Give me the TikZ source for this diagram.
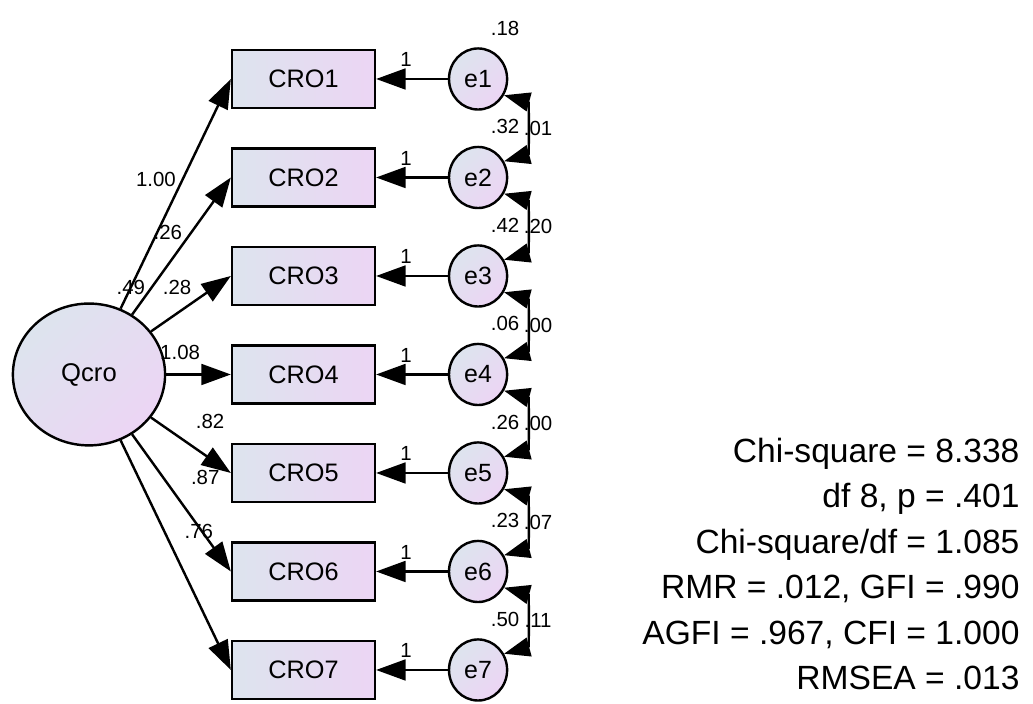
\documentclass[tikz,border=0pt]{standalone}
\usepackage{fontspec}
\setmainfont{Liberation Sans}
\usetikzlibrary{shapes.geometric,arrows.meta}
\definecolor{shadeL}{RGB}{221,228,238}
\definecolor{shadeR}{RGB}{236,213,244}
\tikzset{
    obs/.style={draw,line width=1.4pt,minimum width=2.9cm,minimum height=1.18cm,left color=shadeL,right color=shadeR,font=\fontsize{14.6}{16}\selectfont},
    err/.style={draw,ellipse,line width=1.4pt,minimum width=1.18cm,minimum height=1.24cm,inner sep=0pt,left color=shadeL,right color=shadeR,shading angle=45,font=\fontsize{14.4}{16}\selectfont},
    reg/.style={line width=1.4pt,-{Triangle[length=17pt,width=12pt]}},
    cov/.style={line width=1.4pt,{Triangle[length=15pt,width=11pt]}-{Triangle[length=15pt,width=11pt]}},
    lab/.style={inner sep=0pt,font=\fontsize{11.8}{13}\selectfont}
}
\begin{document}
\begin{tikzpicture}
    \useasboundingbox(-1.807,-6.690)rectangle(19.168,7.604);
    \node[draw,ellipse,line width=1.4pt,minimum width=3.09cm,minimum height=2.88cm,left color=shadeL,right color=shadeR,shading angle=45,font=\fontsize{14.8}{16}\selectfont](Qcro)at(0,0){Qcro};
    \node[lab]at(0.85,1.76){.49};

    % indicators and their errors
    \foreach \i/\y/\v in {1/6/.18,2/4/.32,3/2/.42,4/0/.06,5/-2/.26,6/-4/.23,7/-6/.50}{
        \node[obs](cro\i)at(4.355,\y){CRO\i};
        \node[err](e\i)at(7.9,\y){e\i};
        \draw[reg](e\i)--(cro\i.east);
        \draw[reg](Qcro)--(cro\i.west);
        \node[lab]at(6.44,\y+0.39){1};
        \node[lab]at(8.45,\y+1.03){\v};
    }

    % loadings
    \node[lab]at(1.36,3.95){1.00};
    \node[lab]at(1.60,2.89){.26};
    \node[lab]at(1.79,1.76){.28};
    \node[lab]at(1.85,0.44){1.08};
    \node[lab]at(2.46,-0.96){.82};
    \node[lab]at(2.36,-2.10){.87};
    \node[lab]at(2.23,-3.18){.76};

    % error covariances
    \foreach \i/\j/\y/\c in {1/2/5/.01,2/3/3/.20,3/4/1/.00,4/5/-1/.00,5/6/-3/.07,6/7/-5/.11}{
        \draw[cov](e\i.-32)to[bend left=75](e\j.32);
        \node[lab]at(9.12,\y){\c};
    }

    \node[anchor=east,align=right,inner sep=0pt,font=\fontsize{19.4}{26.3}\selectfont](fit)at(18.9,-3.85){Chi-square = 8.338\\df 8, p = .401\\Chi-square/df = 1.085\\RMR = .012, GFI = .990\\AGFI = .967, CFI = 1.000\\RMSEA = .013};
\end{tikzpicture}
\end{document}
